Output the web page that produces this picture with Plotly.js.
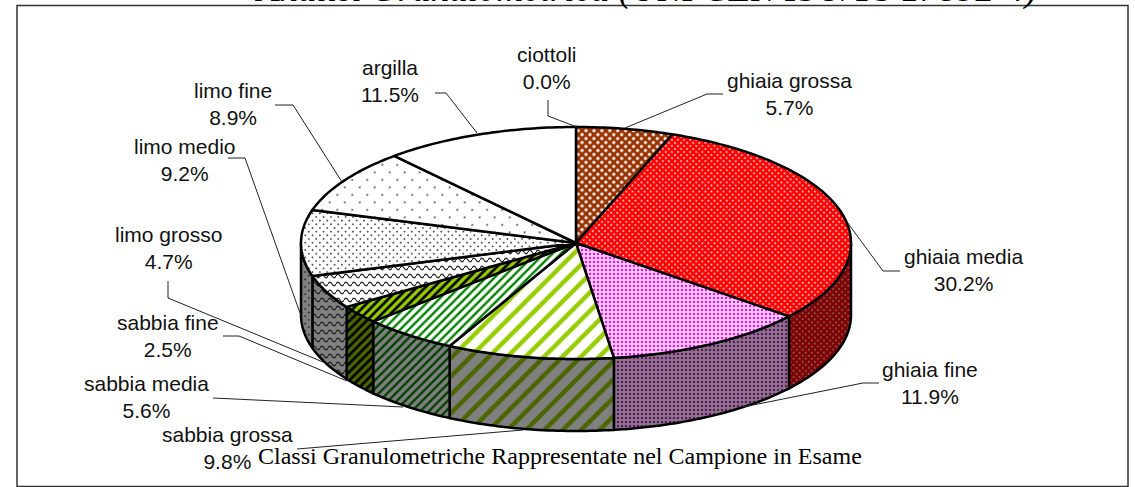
<!DOCTYPE html>
<html><head><meta charset="utf-8">
<script src="https://cdn.plot.ly/plotly-3.0.1.min.js"></script>
<style>html,body{margin:0;padding:0;background:#fff;overflow:hidden}#c{width:1135px;height:487px}</style>
</head><body><div id="c"></div>
<script>
const categories = ['ciottoli','ghiaia grossa','ghiaia media','ghiaia fine','sabbia grossa','sabbia media','sabbia fine','limo grosso','limo medio','limo fine','argilla'];
const percentages = [0.0,5.7,30.2,11.9,9.8,5.6,2.5,4.7,9.2,8.9,11.5];
const topBg   = ['#ffffff','#993300','#ff0000','#ffd9ff','#ffffff','#ffffff','#99cc00','#ffffff','#ffffff','#ffffff','#ffffff'];
const topFg   = ['#000000','#ffffff','#ffffff','#ff00ff','#99cc00','#008000','#000000','#333333','#333333','#333333','#ffffff'];
const sideBg  = ['#808080','#4c1900','#800000','#808080','#808080','#808080','#4c6600','#808080','#808080','#808080','#808080'];
const sideFg  = ['#000000','#808080','#808080','#800080','#4c6600','#004000','#000000','#222222','#222222','#222222','#808080'];
const shapes  = ['','.','.','.','/','/','/','-','.','.',''];
const sizes   = [4,5.6,4.3,4,13,6,6,8,5.2,10.6,4];
const solid   = [0.3,0.25,0.15,0.3,0.35,0.4,0.45,0.16,0.095,0.023,0.3];

const labelX = [547,789,963,930,227.5,146,168,168,185,232.5,390];
const labelY = [68,93.5,270,383,447.5,397,336,248,160,104,81];
const leaderX = [[548,548,577],[723,707,625],[900,883,847],[879,863,743],[297,523],[213,403],[223,239,347],[168,168,323],[228,245,300],[275,293,342],[435,446,477]];
const leaderY = [[100,116,127],[94,94,128],[271,271,222],[383,383,407],[449,430],[398,407],[336,336,381],[281,298,362],[158,158,313],[105,105,182],[93,93,133]];

const cx=576, cy=243, rx=275, ry=116, depth=72, rad=Math.PI/180;
const px=t=>cx+rx*Math.sin(t*rad), py=t=>cy-ry*Math.cos(t*rad);
function arc(a,b){const n=Math.max(2,Math.ceil(Math.abs(b-a)));const xs=[],ys=[];for(let i=0;i<=n;i++){const t=a+(b-a)*i/n;xs.push(px(t));ys.push(py(t));}return [xs,ys];}

let cum=0;const spans=percentages.map(v=>{const a=cum*3.6;cum+=v;return [a,cum*3.6];});
const traces=[];
const pat=(i,side)=>{
  if(!shapes[i])return undefined;
  return {shape:shapes[i],bgcolor:side?sideBg[i]:topBg[i],fgcolor:side?sideFg[i]:topFg[i],size:sizes[i],solidity:solid[i]};
};
spans.forEach((s,i)=>{
  const a=Math.max(s[0],90),b=Math.min(s[1],270);
  if(b<=a)return;
  const [xs,ys]=arc(a,b);
  const xx=xs.concat(xs.slice().reverse()).concat([xs[0]]);
  const yy=ys.concat(ys.slice().reverse().map(y=>y+depth)).concat([ys[0]]);
  traces.push({type:'scatter',mode:'lines',x:xx,y:yy,fill:'toself',fillcolor:sideBg[i],fillpattern:pat(i,true),line:{color:'#000',width:2.5,simplify:false},hoverinfo:'skip',showlegend:false});
});
spans.forEach((s,i)=>{
  if(s[1]<=s[0])return;
  const [xs,ys]=arc(s[0],s[1]);
  const xx=[cx].concat(xs).concat([cx]),yy=[cy].concat(ys).concat([cy]);
  traces.push({type:'scatter',mode:'lines',x:xx,y:yy,fill:'toself',fillcolor:topBg[i],fillpattern:pat(i,false),line:{color:'#000',width:2.5,simplify:false},name:categories[i],hoverinfo:'name',showlegend:false});
});
leaderX.forEach((lx,i)=>traces.push({type:'scatter',mode:'lines',x:lx,y:leaderY[i],line:{color:'#222',width:1},hoverinfo:'skip',showlegend:false}));

const annotations=categories.map((c,i)=>({x:labelX[i],y:labelY[i],xref:'x',yref:'y',text:c+'<br>'+percentages[i].toFixed(1)+'%',showarrow:false,align:'center',xanchor:'center',yanchor:'middle',font:{family:'Liberation Sans, Arial, sans-serif',size:21,color:'#111'}}));
annotations.push({x:559.5,y:456,xref:'x',yref:'y',text:'Classi Granulometriche Rappresentate nel Campione in Esame',showarrow:false,xanchor:'center',yanchor:'middle',font:{family:'Liberation Serif, Times New Roman, serif',size:24,color:'#000'}});
annotations.push({x:645,y:1+11/487,xref:'x',yref:'paper',text:'<i>Analisi Granulometrica (UNI CEN ISO/TS 17892-4)</i>',showarrow:false,xanchor:'center',yanchor:'middle',font:{family:'Liberation Serif, Times New Roman, serif',size:37,color:'#000'}});

const layout={width:1135,height:487,margin:{l:0,r:0,t:0,b:0},paper_bgcolor:'#fff',plot_bgcolor:'#fff',showlegend:false,
 xaxis:{range:[0,1135],visible:false,fixedrange:true},yaxis:{range:[487,0],visible:false,fixedrange:true},
 annotations,
 shapes:[{type:'rect',xref:'x',yref:'y',x0:17,x1:1128,y0:5.5,y1:486.5,line:{color:'#333',width:1.5},layer:'below'}]};
Plotly.newPlot('c',traces,layout,{staticPlot:true,displayModeBar:false}).then(gd=>{
  // Excel-style hatch details the library has no option for: staggered dots and wavy rows
  gd.querySelectorAll('pattern').forEach(p=>{
    const w=parseFloat(p.getAttribute('width'));
    if(p.querySelector('circle')&&w!==4) p.setAttribute('patternTransform','rotate(45)');
    const path=p.querySelector('path');
    if(path&&w===8){
      path.setAttribute('d','M0,4 Q2,0.5 4,4 T8,4'); path.setAttribute('fill','none');
    }
  });
});
</script></body></html>
